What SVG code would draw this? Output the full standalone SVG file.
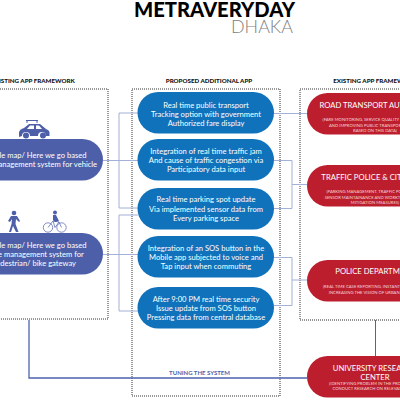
<svg xmlns="http://www.w3.org/2000/svg" width="400" height="400" viewBox="0 0 400 400">
<style>
text{font-family:Lato,"Open Sans",sans-serif}
.box{fill:none;stroke:#333;stroke-width:1;stroke-dasharray:1 1}
.c{fill:none;stroke:#a3b0d8;stroke-width:1}
.c2{fill:none;stroke:#4f62ae;stroke-width:1}
.h{font-size:6.200px;font-weight:900;fill:#111;text-anchor:middle}
.i{fill:#4d5fa9}
.b{fill:#0f72bb}
.r{fill:#bd1e2e}
.t{font-size:7.600px;fill:#fff;text-anchor:middle}
.rt{font-size:7.700px;fill:#fff;text-anchor:middle}
.rs{font-size:4.200px;fill:#f5d5d8;text-anchor:middle}
</style>
<g id="title">
<text x="134" y="17" font-size="20.500" font-weight="900" fill="#000" textLength="161" lengthAdjust="spacingAndGlyphs">METRAVERYDAY</text>
<text x="231" y="33" font-size="18" font-weight="300" fill="#808080" textLength="62" lengthAdjust="spacingAndGlyphs">DHAKA</text>
</g>
<text class="h" x="33" y="82.500">EXISTING APP FRAMEWORK</text>
<text class="h" x="209" y="82.500">PROPOSED ADDITIONAL APP</text>
<text class="h" x="375" y="82.500">EXISTING APP FRAMEWORK</text>
<g id="frames">
<rect class="box" x="-20" y="89" width="128" height="230"/>
<rect class="box" x="132" y="89" width="148" height="307"/>
<rect class="box" x="300" y="89" width="130" height="231"/>
</g>
<g id="connectors">
<path class="c" d="M138 113H119V208H138M103 160.500H138"/>
<path class="c" d="M138 215H119V311H138M103 254.500H138"/>
<path class="c" d="M274 113.500H307"/>
<path class="c" d="M274 160.500H292V208.500H274M292 184.500H307"/>
<path class="c" d="M274 257.500H292V305.500H274M292 280H307"/>
<path class="c2" d="M375.500 320V356"/>
<path class="c2" style="stroke-width:1.300" d="M29 320V378H307"/>
</g>
<g id="car" class="i">
<path d="M19 137V132Q20 129 24 128L29 124H40L46 129Q49 130 49.500 132V136H46A4 4 0 0 0 38 136H30A4 4 0 0 0 22 136Z"/>
<circle cx="26" cy="135.500" r="3"/><circle cx="43" cy="135.500" r="3"/>
<path d="M27 123V121M37 123V121M26 120.500H38" stroke="#4d5fa9" stroke-width="1" fill="none"/>
<path d="M30 125.500H34V129H27ZM36 125.500H39L42 129H36Z" fill="#fff"/>
</g>
<g id="walker" class="i">
<circle cx="14" cy="213" r="2.300"/>
<path d="M11 216H17L20 221L19 222L16 219L15.500 224L18.500 232H16L13 226L11 232H9L11.500 224L12 219L10 222L8 221Z"/>
</g>
<g id="cyclist" fill="none" stroke="#4d5fa9" stroke-width=".7">
<circle cx="48" cy="227.500" r="4.700"/><circle cx="61.500" cy="227.500" r="4.700"/>
<path d="M48 227.500L53 221L59 222L61.500 227.500M53 221L55 227.500L59 222" />
<circle cx="55" cy="212.500" r="2" fill="#4d5fa9" stroke="none"/>
<path d="M53 215H56L59 221L55 222L53 220Z" fill="#4d5fa9" stroke="none"/>
</g>
<g id="left-1">
<rect class="i" x="-60" y="139" width="163" height="41.500" rx="20.700"/>
<text class="t" x="34" y="157.500">Google map/ Here we go based</text>
<text class="t" x="34" y="166.500">traffic management system for vehicle</text>
</g>
<g id="left-2">
<rect class="i" x="-60" y="233" width="163" height="41.500" rx="20.700"/>
<text class="t" x="34" y="247.500">Google map/ Here we go based</text>
<text class="t" x="34" y="256.500">route management system for</text>
<text class="t" x="34" y="265.500">pedestrian/ bike gateway</text>
</g>
<g id="mid-1">
<rect class="b" x="137.500" y="92" width="136.500" height="41.500" rx="20.700"/>
<text class="t" x="206" y="107.500">Real time public transport</text>
<text class="t" x="206" y="116.500">Tracking option with government</text>
<text class="t" x="206" y="125.500">Authorized fare display</text>
</g>
<g id="mid-2">
<rect class="b" x="137.500" y="139" width="136.500" height="41.500" rx="20.700"/>
<text class="t" x="206" y="154">Integration of real time traffic jam</text>
<text class="t" x="206" y="163">And cause of traffic congestion via</text>
<text class="t" x="206" y="172">Participatory data input</text>
</g>
<g id="mid-3">
<rect class="b" x="137.500" y="188" width="136.500" height="41.500" rx="20.700"/>
<text class="t" x="206" y="202">Real time parking spot update</text>
<text class="t" x="206" y="211.500">Via implemented sensor data from</text>
<text class="t" x="206" y="220.500">Every parking space</text>
</g>
<g id="mid-4">
<rect class="b" x="137.500" y="236" width="136.500" height="41.500" rx="20.700"/>
<text class="t" x="206" y="251">Integration of an SOS button in the</text>
<text class="t" x="206" y="260">Mobile app subjected to voice and</text>
<text class="t" x="206" y="269">Tap input when commuting</text>
</g>
<g id="mid-5">
<rect class="b" x="137.500" y="287" width="136.500" height="41.500" rx="20.700"/>
<text class="t" x="206" y="302">After 9:00 PM real time security</text>
<text class="t" x="206" y="311">Issue update from SOS button</text>
<text class="t" x="206" y="320">Pressing data from central database</text>
</g>
<text x="199.500" y="374.500" font-size="6" font-weight="700" fill="#4f62ae" text-anchor="middle">TUNING THE SYSTEM</text>
<g id="right-1">
<rect class="r" x="307" y="93" width="163" height="41.500" rx="20.700"/>
<text class="rt" x="376" y="107.500">ROAD TRANSPORT AUTHORITY</text>
<text class="rs" x="375" y="121">(FARE MONITORING, SERVICE QUALITY MONITORING</text>
<text class="rs" x="375" y="126.500">AND IMPROVING PUBLIC TRANSPORT SERVICE</text>
<text class="rs" x="375" y="131.500">BASED ON THIS DATA)</text>
</g>
<g id="right-2">
<rect class="r" x="307" y="165" width="163" height="41.500" rx="20.700"/>
<text class="rt" x="375" y="179.500">TRAFFIC POLICE &amp; CITY CORP</text>
<text class="rs" x="375" y="193">(PARKING MANAGEMENT, TRAFFIC POLICE DUTY,</text>
<text class="rs" x="375" y="198.500">SENSOR MAINTAINANCE AND WORKTIME TRAFFIC</text>
<text class="rs" x="375" y="203.500">MITIGATION MEASURES)</text>
</g>
<g id="right-3">
<rect class="r" x="307" y="260" width="163" height="41.500" rx="20.700"/>
<text class="rt" x="375" y="274">POLICE DEPARTMENT</text>
<text class="rs" x="375" y="288">(REAL TIME CASE REPORTING, INSTANT EMERGENCY,</text>
<text class="rs" x="375" y="293.500">INCREASING THE VISION OF URBAN POLICING)</text>
</g>
<g id="right-4">
<rect class="r" x="307" y="356" width="163" height="41.500" rx="20.700"/>
<text class="rt" x="375" y="370.500">UNIVERSITY RESEARCH</text>
<text class="rt" x="375" y="380">CENTER</text>
<text class="rs" x="375" y="385">(IDENTIFYING PROBLEM IN THE PROCESS AND</text>
<text class="rs" x="375" y="389.500">CONDUCT RESEARCH ON RELEVANT AREA)</text>
</g>
</svg>
